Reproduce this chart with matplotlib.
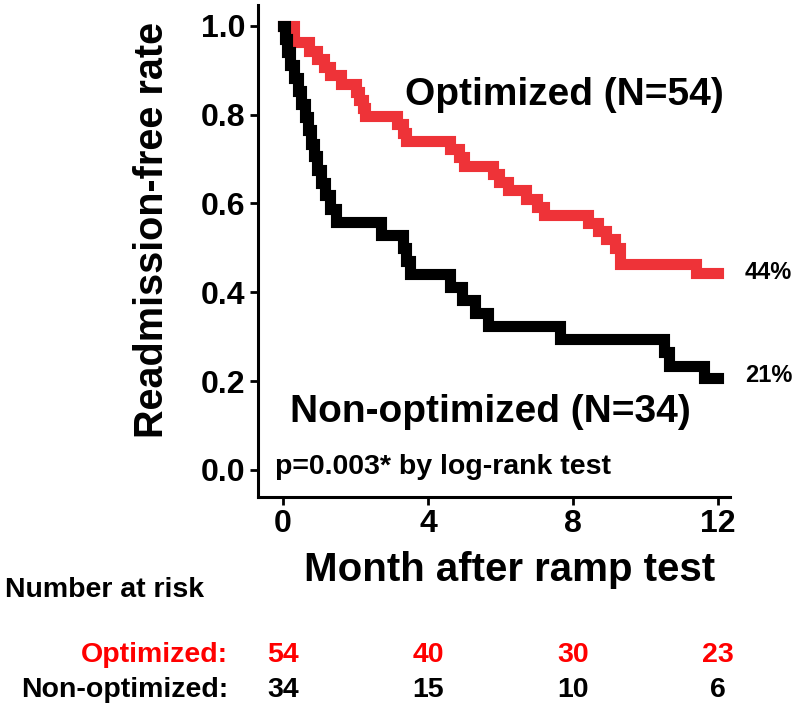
import matplotlib.pyplot as plt
import matplotlib.transforms as mtransforms

# Kaplan-Meier step curves (month, survival)
opt_t = [0, 0.3, 0.72, 0.94, 1.13, 1.3, 1.6, 2.0, 2.1, 2.2, 2.25, 3.15, 3.3, 3.4,
         4.6, 4.85, 5.0, 5.8, 5.95, 6.2, 6.7, 7.0, 7.2, 8.4, 8.7, 8.9, 9.15, 9.3,
         11.4, 12.0]
opt_s = [1.0, 0.963, 0.944, 0.926, 0.907, 0.889, 0.870, 0.852, 0.833, 0.815,
         0.796, 0.778, 0.759, 0.741, 0.722, 0.704, 0.685, 0.667, 0.648, 0.630,
         0.611, 0.593, 0.574, 0.556, 0.537, 0.519, 0.500, 0.463, 0.444, 0.444]

non_t = [0, 0.05, 0.12, 0.2, 0.3, 0.4, 0.5, 0.6, 0.68, 0.76, 0.85, 0.95, 1.05,
         1.15, 1.3, 1.45, 2.7, 3.3, 3.4, 3.5, 4.6, 4.95, 5.3, 5.65, 7.65, 10.5,
         10.65, 11.6, 12.0]
non_s = [1.0, 0.971, 0.941, 0.912, 0.882, 0.853, 0.824, 0.794, 0.765, 0.735,
         0.706, 0.676, 0.647, 0.618, 0.588, 0.559, 0.529, 0.500, 0.471, 0.441,
         0.412, 0.382, 0.353, 0.324, 0.294, 0.265, 0.235, 0.206, 0.206]

risk_months = [0, 4, 8, 12]
risk_opt = [54, 40, 30, 23]
risk_non = [34, 15, 10, 6]

red = "#EE3338"
plt.rcParams["font.family"] = ["Liberation Sans", "DejaVu Sans"]
W, H = 800, 704

fig = plt.figure(figsize=(8, 7.04), dpi=100)
ax = fig.add_axes([258 / W, 1 - 497 / H, 472 / W, 492 / H])

ax.step(opt_t, opt_s, where="post", color=red, lw=8, solid_capstyle="projecting",
        solid_joinstyle="miter")
ax.step(non_t, non_s, where="post", color="black", lw=8, solid_capstyle="projecting",
        solid_joinstyle="miter")

ax.set_xlim(-0.69, 12.33)
ax.set_ylim(-0.061, 1.047)
ax.set_xticks([0, 4, 8, 12])
ax.set_yticks([0, 0.2, 0.4, 0.6, 0.8, 1.0])
ax.set_yticklabels(["0.0", "0.2", "0.4", "0.6", "0.8", "1.0"])
for s in ["top", "right"]:
    ax.spines[s].set_visible(False)
for s in ["left", "bottom"]:
    ax.spines[s].set_linewidth(2.2)
ax.tick_params(width=2, length=6, labelsize=23, pad=3)
for lab in ax.get_xticklabels() + ax.get_yticklabels():
    lab.set_fontweight("bold")

fig.text(152 / W, 1 - 230 / H, "Readmission-free rate", fontsize=28.5,
         fontweight="bold", rotation=90, ha="center", va="center")
fig.text(510 / W, 1 - 570 / H, "Month after ramp test", fontsize=29,
         fontweight="bold", ha="center", va="center")

ax.text(3.37, 0.845, "Optimized (N=54)", fontsize=28, fontweight="bold",
        ha="left", va="center")
ax.text(0.19, 0.13, "Non-optimized (N=34)", fontsize=28, fontweight="bold",
        ha="left", va="center")
ax.text(-0.22, 0.007, "p=0.003* by log-rank test", fontsize=20.5, fontweight="bold",
        ha="left", va="center")
ax.text(12.74, 0.444, "44%", fontsize=17, fontweight="bold",
        ha="left", va="center", clip_on=False)
ax.text(12.74, 0.213, "21%", fontsize=17, fontweight="bold",
        ha="left", va="center", clip_on=False)

# number at risk table
fs = 20.5
fig.text(5 / W, 1 - 590 / H, "Number at risk", fontsize=fs, fontweight="bold",
         ha="left", va="center")
fig.text(228 / W, 1 - 655 / H, "Optimized:", fontsize=fs, fontweight="bold",
         color="red", ha="right", va="center")
fig.text(228 / W, 1 - 690 / H, "Non-optimized:", fontsize=fs, fontweight="bold",
         ha="right", va="center")
tr = mtransforms.blended_transform_factory(ax.transData, fig.transFigure)
for m, a, b in zip(risk_months, risk_opt, risk_non):
    ax.text(m, 1 - 655 / H, str(a), transform=tr, fontsize=fs, fontweight="bold",
            color="red", ha="center", va="center", clip_on=False)
    ax.text(m, 1 - 690 / H, str(b), transform=tr, fontsize=fs, fontweight="bold",
            ha="center", va="center", clip_on=False)

fig.savefig("out.png", dpi=100)
